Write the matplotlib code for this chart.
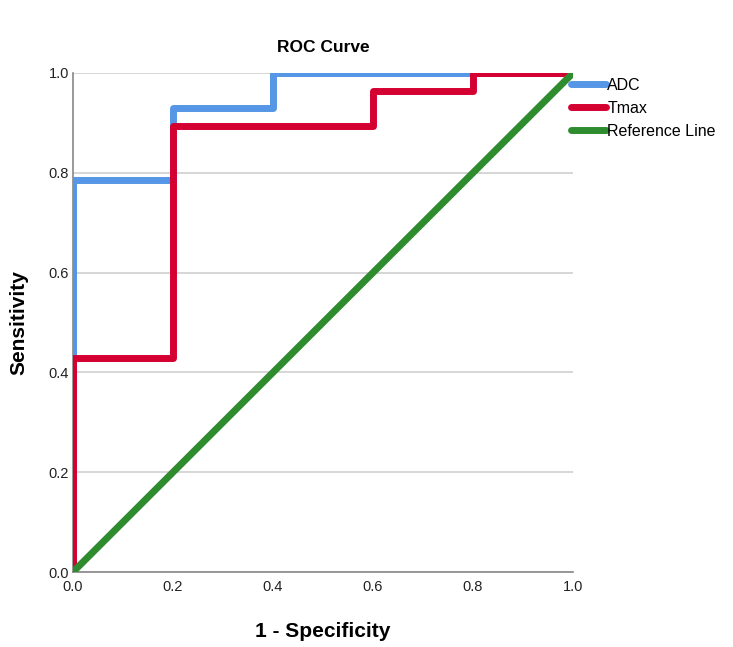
import matplotlib.pyplot as plt

plt.rcParams['font.family'] = ['Liberation Sans', 'DejaVu Sans']

# ROC points (1 - specificity, sensitivity)
adc_fpr = [0.0, 0.0, 0.2, 0.2, 0.4, 0.4, 1.0]
adc_tpr = [0.0, 0.786, 0.786, 0.929, 0.929, 1.0, 1.0]

tmax_fpr = [0.0, 0.0, 0.2, 0.2, 0.6, 0.6, 0.8, 0.8, 1.0]
tmax_tpr = [0.0, 0.429, 0.429, 0.893, 0.893, 0.964, 0.964, 1.0, 1.0]

ref_x = [0.0, 1.0]
ref_y = [0.0, 1.0]

ticks = [0.0, 0.2, 0.4, 0.6, 0.8, 1.0]
tick_labels = ['0.0', '0.2', '0.4', '0.6', '0.8', '1.0']

fig = plt.figure(figsize=(7.33, 6.47), dpi=100)
ax = fig.add_axes([73 / 733, 75 / 647, 500 / 733, 499 / 647])

ax.plot(adc_fpr, adc_tpr, color='#5596e6', lw=5, label='ADC',
        solid_joinstyle='round', solid_capstyle='round', zorder=3)
ax.plot(tmax_fpr, tmax_tpr, color='#d50032', lw=5, label='Tmax',
        solid_joinstyle='round', solid_capstyle='round', zorder=4)
ax.plot(ref_x, ref_y, color='#2e8b2e', lw=5, label='Reference Line',
        solid_capstyle='round', zorder=5)

ax.set_xlim(0, 1)
ax.set_ylim(0, 1)
ax.set_xticks(ticks)
ax.set_xticklabels(tick_labels)
ax.set_yticks(ticks)
ax.set_yticklabels(tick_labels)
ax.tick_params(length=0, labelsize=10.5, colors='#222222')
ax.tick_params(axis='x', pad=6)
ax.tick_params(axis='y', pad=3)

ax.yaxis.grid(True, color='#d0d0d0', lw=1.2)
ax.set_axisbelow(True)
for side in ['top', 'right']:
    ax.spines[side].set_visible(False)
for side in ['left', 'bottom']:
    ax.spines[side].set_color('#888888')
    ax.spines[side].set_linewidth(1.2)

ax.set_title('ROC Curve', fontsize=12.5, fontweight='bold', pad=15)
ax.set_xlabel('1 - Specificity', fontsize=15, fontweight='bold', labelpad=20)
ax.set_ylabel('Sensitivity', fontsize=15, fontweight='bold', labelpad=14)

ax.legend(loc='upper left', bbox_to_anchor=(0.995, 0.99), frameon=False,
          fontsize=11.5, handlelength=2.2, handletextpad=0.1,
          labelspacing=0.5, borderaxespad=0, borderpad=0)

fig.savefig('out.png', dpi=100)
